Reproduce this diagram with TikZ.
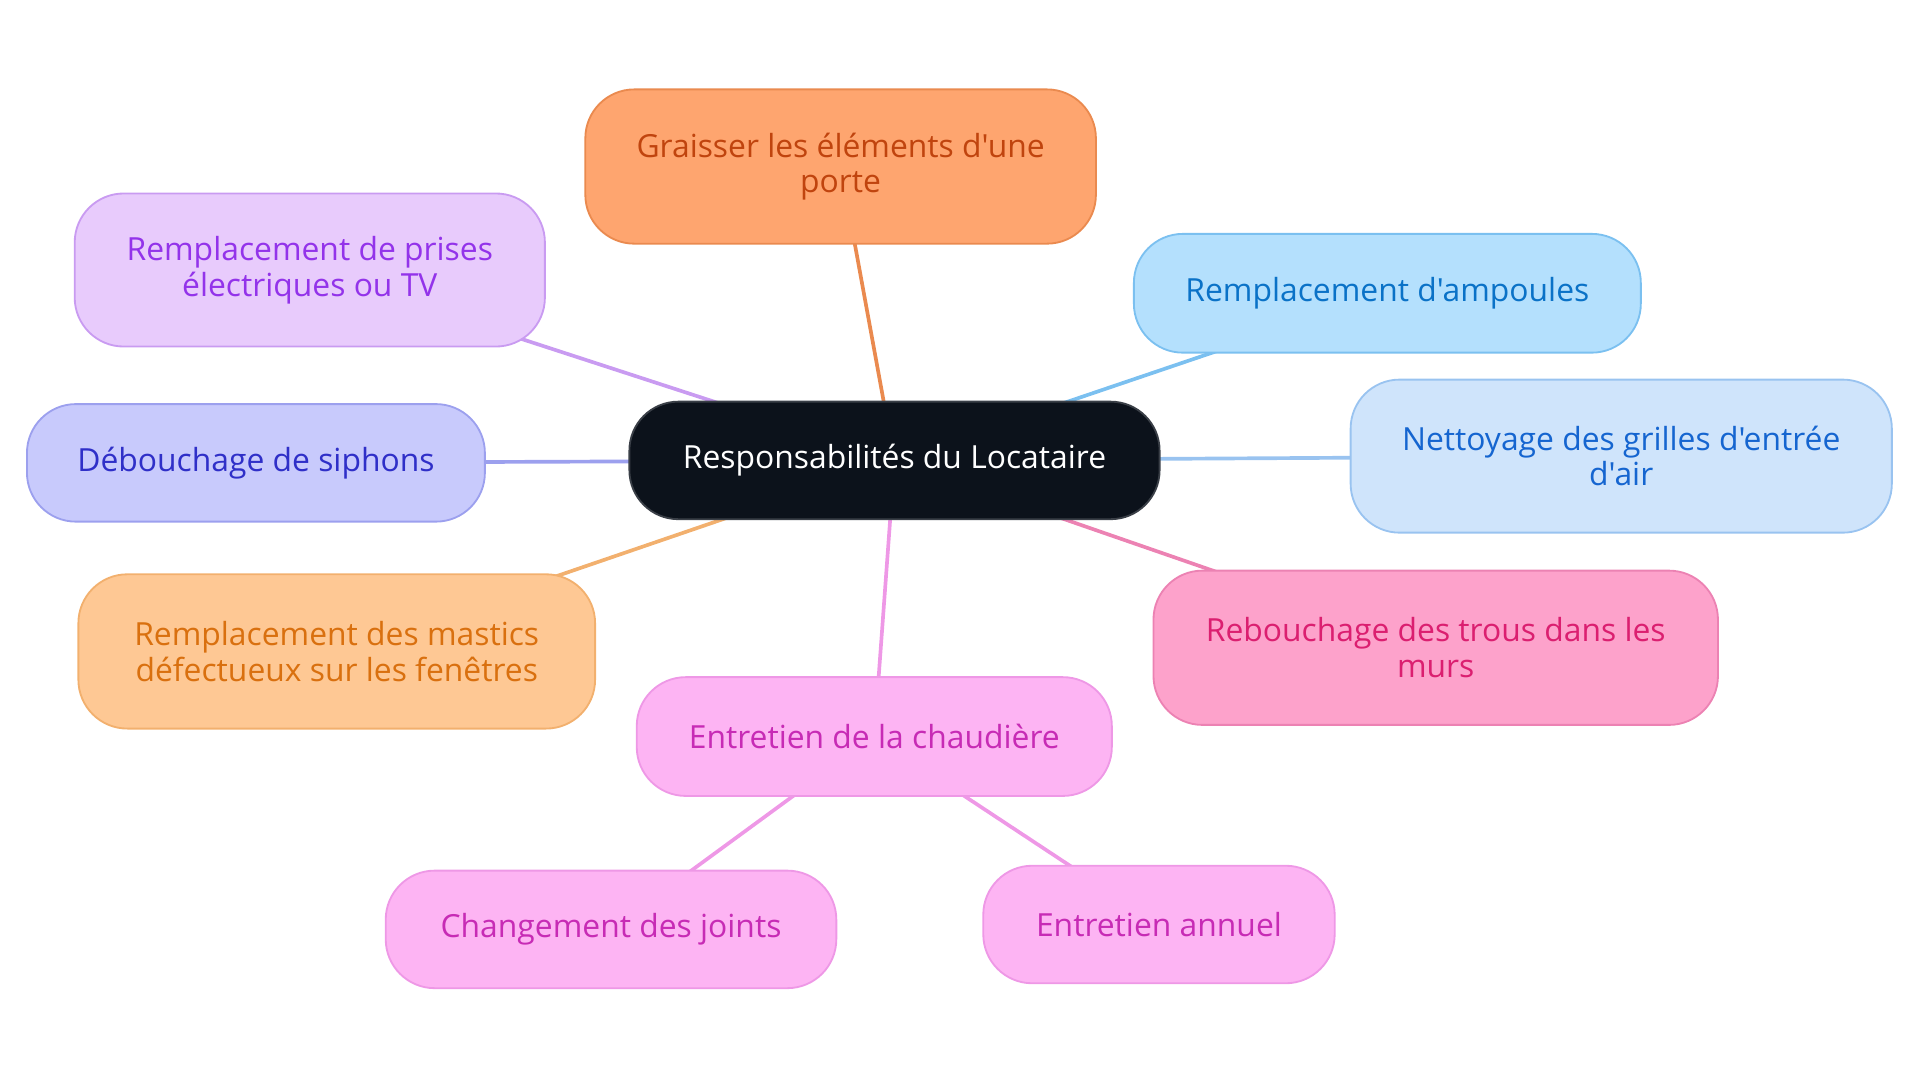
\documentclass[tikz,border=0pt]{standalone}
\usepackage{fontspec}
\setmainfont{Open Sans}[Ligatures=TeXOff]
\usetikzlibrary{backgrounds}
\definecolor{cenfill}{HTML}{0C121B}
\definecolor{cendraw}{HTML}{3A3F47}
\definecolor{grfill}{HTML}{FEA56F}
\definecolor{grdraw}{HTML}{EA8A4F}
\definecolor{grtext}{HTML}{C0440E}
\definecolor{prfill}{HTML}{E8CBFC}
\definecolor{prdraw}{HTML}{C99BF1}
\definecolor{prtext}{HTML}{9333EA}
\definecolor{amfill}{HTML}{B4E0FD}
\definecolor{amdraw}{HTML}{7BC0F0}
\definecolor{amtext}{HTML}{0A72C7}
\definecolor{nefill}{HTML}{CFE4FB}
\definecolor{nedraw}{HTML}{99C3F0}
\definecolor{netext}{HTML}{1565D0}
\definecolor{defill}{HTML}{C8CAFC}
\definecolor{dedraw}{HTML}{9CA0EE}
\definecolor{detext}{HTML}{2F2FC8}
\definecolor{mafill}{HTML}{FEC894}
\definecolor{madraw}{HTML}{F2B06E}
\definecolor{matext}{HTML}{D9700F}
\definecolor{refill}{HTML}{FDA2CB}
\definecolor{redraw}{HTML}{EC82B3}
\definecolor{retext}{HTML}{DB1F70}
\definecolor{chfill}{HTML}{FDB4F3}
\definecolor{chdraw}{HTML}{EE98E6}
\definecolor{chtext}{HTML}{C72BB5}
\tikzset{
  box/.style={draw, rounded corners=40pt, line width=1.5pt, align=center, inner sep=0pt,
    font=\fontsize{26}{29}\selectfont},
  link/.style={line width=3pt}
}
\begin{document}
\begin{tikzpicture}[x=1pt,y=-1pt]
\useasboundingbox (0,0) rectangle (1568,884);
\node[box, fill=cenfill, draw=cendraw, text=white, minimum width=433pt, minimum height=96pt] (c) at (730.5,376) {Responsabilités du Locataire};
\node[box, fill=grfill, draw=grdraw, text=grtext, minimum width=417pt, minimum height=126pt] (gr) at (686.5,136) {Graisser les éléments d'une\\porte};
\node[box, fill=prfill, draw=prdraw, text=prtext, minimum width=384pt, minimum height=125pt] (pr) at (253,220.5) {Remplacement de prises\\électriques ou TV};
\node[box, fill=amfill, draw=amdraw, text=amtext, minimum width=414pt, minimum height=97pt] (am) at (1133,239.5) {Remplacement d'ampoules};
\node[box, fill=nefill, draw=nedraw, text=netext, minimum width=442pt, minimum height=125pt] (ne) at (1324,372.5) {Nettoyage des grilles d'entrée\\d'air};
\node[box, fill=defill, draw=dedraw, text=detext, minimum width=374pt, minimum height=96pt] (de) at (209,378) {Débouchage de siphons};
\node[box, fill=mafill, draw=madraw, text=matext, minimum width=422pt, minimum height=126pt] (ma) at (275,532) {Remplacement des mastics\\défectueux sur les fenêtres};
\node[box, fill=refill, draw=redraw, text=retext, minimum width=461pt, minimum height=126pt] (re) at (1172.5,529) {Rebouchage des trous dans les\\murs};
\node[box, fill=chfill, draw=chdraw, text=chtext, minimum width=388pt, minimum height=97pt] (ch) at (714,601.5) {Entretien de la chaudière};
\node[box, fill=chfill, draw=chdraw, text=chtext, minimum width=368pt, minimum height=96pt] (jo) at (499,759) {Changement des joints};
\node[box, fill=chfill, draw=chdraw, text=chtext, minimum width=287pt, minimum height=96pt] (an) at (946.5,755) {Entretien annuel};
\begin{pgfonlayer}{background}
\draw[link, draw=grdraw] (c.center) -- (gr.center);
\draw[link, draw=prdraw] (c.center) -- (pr.center);
\draw[link, draw=amdraw] (c.center) -- (am.center);
\draw[link, draw=nedraw] (c.center) -- (ne.center);
\draw[link, draw=dedraw] (c.center) -- (de.center);
\draw[link, draw=madraw] (c.center) -- (ma.center);
\draw[link, draw=redraw] (c.center) -- (re.center);
\draw[link, draw=chdraw] (c.center) -- (ch.center);
\draw[link, draw=chdraw] (ch.center) -- (jo.center);
\draw[link, draw=chdraw] (ch.center) -- (an.center);
\end{pgfonlayer}
\end{tikzpicture}
\end{document}
